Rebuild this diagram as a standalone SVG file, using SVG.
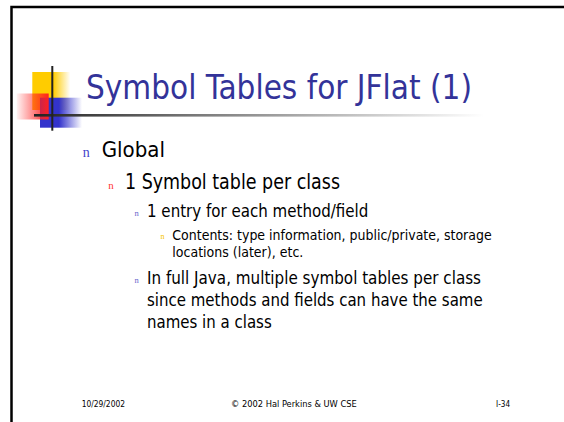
<svg xmlns="http://www.w3.org/2000/svg" width="564" height="422" viewBox="0 0 564 422">
  <style>
    .t { font-family: "DejaVu Sans Condensed", "DejaVu Sans", "Liberation Sans", sans-serif; fill: #000; }
    .title { font-family: "DejaVu Sans Condensed", "DejaVu Sans", "Liberation Sans", sans-serif; fill: #333399; font-size: 33px; }
    .bul { font-family: "Liberation Serif", "DejaVu Serif", serif; }
    .foot { font-family: "DejaVu Sans Condensed", "DejaVu Sans", "Liberation Sans", sans-serif; fill: #000; font-size: 9.3px; }
  </style>
  <defs>
    <linearGradient id="gy" x1="0" y1="0" x2="1" y2="0">
      <stop offset="0" stop-color="#ffcc00"/>
      <stop offset="0.55" stop-color="#ffcc00"/>
      <stop offset="1" stop-color="#ffcc00" stop-opacity="0"/>
    </linearGradient>
    <linearGradient id="gr" x1="0" y1="0" x2="1" y2="0">
      <stop offset="0" stop-color="#ff2020" stop-opacity="0.05"/>
      <stop offset="1" stop-color="#ff2020"/>
    </linearGradient>
    <linearGradient id="gb" x1="0" y1="0" x2="1" y2="0">
      <stop offset="0" stop-color="#3333cc"/>
      <stop offset="0.45" stop-color="#3333cc"/>
      <stop offset="1" stop-color="#3333cc" stop-opacity="0"/>
    </linearGradient>
    <linearGradient id="gl" x1="0" y1="0" x2="1" y2="0">
      <stop offset="0" stop-color="#222222"/>
      <stop offset="0.35" stop-color="#777777"/>
      <stop offset="1" stop-color="#ffffff"/>
    </linearGradient>
  </defs>
  <rect x="0" y="0" width="564" height="422" fill="#ffffff"/>
  <g id="frame">
    <rect x="11.5" y="7" width="600" height="460" fill="none" stroke="#000" stroke-width="2.5"/>
  </g>
  <g id="decoration">
    <rect x="32.3" y="72" width="38" height="38" fill="url(#gy)"/>
    <rect x="40" y="97.7" width="42" height="30" fill="url(#gb)"/>
    <rect x="16.7" y="93.5" width="32" height="26" fill="url(#gr)"/>
    <rect x="34" y="114" width="450" height="2.6" fill="url(#gl)"/>
    <rect x="51.3" y="66" width="2" height="64.7" fill="#222222"/>
  </g>
  <g id="title">
    <text class="title" x="86" y="99" textLength="386" lengthAdjust="spacingAndGlyphs">Symbol Tables for JFlat (1)</text>
  </g>
  <g id="bullet-global">
    <text class="bul" x="82.7" y="156.7" font-size="14" fill="#4444cc">n</text>
    <text class="t" x="101.7" y="157" font-size="21.5" textLength="63.3" lengthAdjust="spacingAndGlyphs">Global</text>
  </g>
  <g id="bullet-symbol-table">
    <text class="bul" x="108.3" y="188.5" font-size="11" fill="#ff3333">n</text>
    <text class="t" x="125" y="189.3" font-size="20.5" textLength="215" lengthAdjust="spacingAndGlyphs">1 Symbol table per class</text>
  </g>
  <g id="bullet-entry">
    <text class="bul" x="134.5" y="216" font-size="8.5" fill="#6666cc">n</text>
    <text class="t" x="147" y="216.7" font-size="17.5" textLength="221.3" lengthAdjust="spacingAndGlyphs">1 entry for each method/field</text>
  </g>
  <g id="bullet-contents">
    <text class="bul" x="160.5" y="238.8" font-size="8" fill="#f5c400">n</text>
    <text class="t" x="172.3" y="240" font-size="14.5" textLength="319.4" lengthAdjust="spacingAndGlyphs">Contents: type information, public/private, storage</text>
    <text class="t" x="172.3" y="257.3" font-size="14.5" textLength="131" lengthAdjust="spacingAndGlyphs">locations (later), etc.</text>
  </g>
  <g id="bullet-full-java">
    <text class="bul" x="134.5" y="282.5" font-size="8.5" fill="#6666cc">n</text>
    <text class="t" x="147" y="284" font-size="18" textLength="334" lengthAdjust="spacingAndGlyphs">In full Java, multiple symbol tables per class</text>
    <text class="t" x="147" y="306.2" font-size="18" textLength="335.7" lengthAdjust="spacingAndGlyphs">since methods and fields can have the same</text>
    <text class="t" x="147" y="328.3" font-size="18" textLength="124.7" lengthAdjust="spacingAndGlyphs">names in a class</text>
  </g>
  <g id="footer">
    <text class="foot" x="81.7" y="407" textLength="43.3" lengthAdjust="spacingAndGlyphs">10/29/2002</text>
    <text class="foot" x="231" y="407" textLength="125.7" lengthAdjust="spacingAndGlyphs">© 2002 Hal Perkins &amp; UW CSE</text>
    <text class="foot" x="496" y="407" textLength="14" lengthAdjust="spacingAndGlyphs">I-34</text>
  </g>
</svg>
